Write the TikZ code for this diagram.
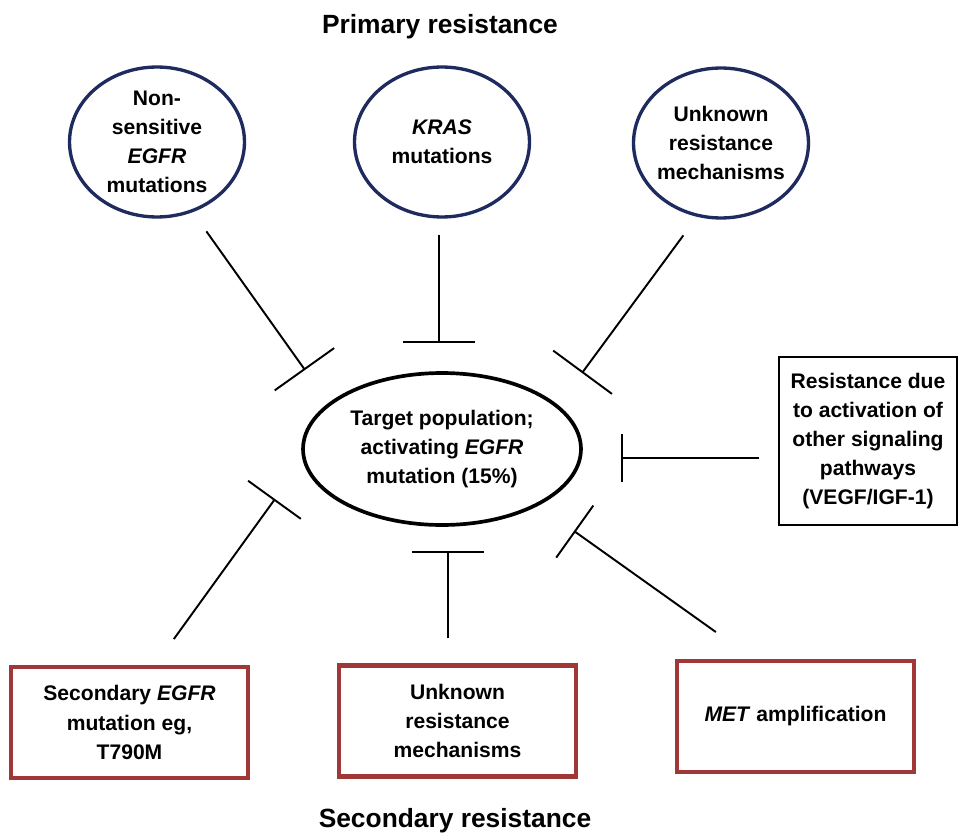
\documentclass[tikz,border=0pt]{standalone}
\usepackage{fontspec}
\setmainfont{Liberation Sans}
\usetikzlibrary{shapes.geometric}
\usetikzlibrary{arrows.meta}

\definecolor{ovalblue}{HTML}{1F2A5E}
\definecolor{boxred}{HTML}{A03838}

\begin{document}
\begin{tikzpicture}[x=0.02cm, y=-0.02cm, font=\bfseries\fontsize{12}{16.6}\selectfont]

		\tikzstyle{primary}   = [ellipse, draw=ovalblue, line width=1.9pt, minimum width=3.5cm, minimum height=3.0cm, inner sep=0pt]
		\tikzstyle{txt}       = [align=center, inner sep=0pt]
		\tikzstyle{target}    = [ellipse, draw, line width=2.1pt, minimum width=5.56cm, minimum height=3.04cm, inner sep=0pt]
		\tikzstyle{secondary} = [rectangle, draw=boxred, line width=2.3pt, minimum width=4.74cm, minimum height=2.22cm, align=center]
		\tikzstyle{otherbox}  = [rectangle, draw, line width=1.1pt, minimum width=3.56cm, minimum height=3.36cm, align=center]
		\tikzstyle{inhib}     = [line width=1.1pt]
		\tikzstyle{heading}   = [font=\bfseries\fontsize{15}{18}\selectfont]

		\useasboundingbox (0,0) rectangle (958,835);

		%%Headings
		\node [heading] (ptitle) at (440, 27) {Primary resistance};
		\node [heading] (stitle) at (455, 821) {Secondary resistance};

		%%Primary resistance
		\node [primary, label={[txt]center:{Non-\\sensitive\\\textit{EGFR}\\mutations}}] (nonsens) at (157, 142) {};
		\node [primary, label={[txt]center:{\textit{KRAS}\\mutations}}] (kras) at (442, 142) {};
		\node [primary, label={[txt]center:{Unknown\\resistance\\mechanisms}}] (unkprim) at (721, 143) {};

		%%Target population
		\node [target, label={[txt]center:{Target population;\\activating \textit{EGFR}\\mutation (15\%)}}] (target) at (442, 449) {};

		%%Other pathways
		\node [otherbox] (othersig) at (868, 441) {Resistance due\\to activation of\\other signaling\\pathways\\(VEGF/IGF-1)};

		%%Secondary resistance
		\node [secondary] (secmut) at (129.5, 722.5) {Secondary \textit{EGFR}\\mutation eg,\\T790M};
		\node [secondary] (unksec) at (457.5, 721) {Unknown\\resistance\\mechanisms};
		\node [secondary] (met) at (795.5, 716.5) {\textit{MET} amplification};

		%%Bar ends
		\coordinate (b1) at (305, 370);
		\coordinate (b2) at (439, 343);
		\coordinate (b3) at (582, 373);
		\coordinate (b4) at (621, 458);
		\coordinate (b5) at (275, 499);
		\coordinate (b6) at (448, 551);
		\coordinate (b7) at (574, 531);

		\draw [inhib, -{Bar[width=1.46cm]}, shorten <=0.47cm] (nonsens.-63.9) -- (b1);
		\draw [inhib, -{Bar[width=1.46cm]}, shorten <=0.32cm] (kras.south -| b2) -- (b2);
		\draw [inhib, -{Bar[width=1.46cm]}, shorten <=0.46cm] (unkprim.-108.8) -- (b3);
		\draw [inhib, -{Bar[width=0.98cm]}, shorten <=0.38cm] (othersig.west |- b4) -- (b4);
		\draw [inhib, -{Bar[width=1.3cm]}, shorten <=0.64cm] (secmut.66.4) -- (b5);
		\draw [inhib, -{Bar[width=1.46cm]}, shorten <=0.5cm] (unksec.north -| b6) -- (b6);
		\draw [inhib, -{Bar[width=1.28cm]}, shorten <=0.93cm] (met.126.6) -- (b7);
	\end{tikzpicture}
\end{document}
